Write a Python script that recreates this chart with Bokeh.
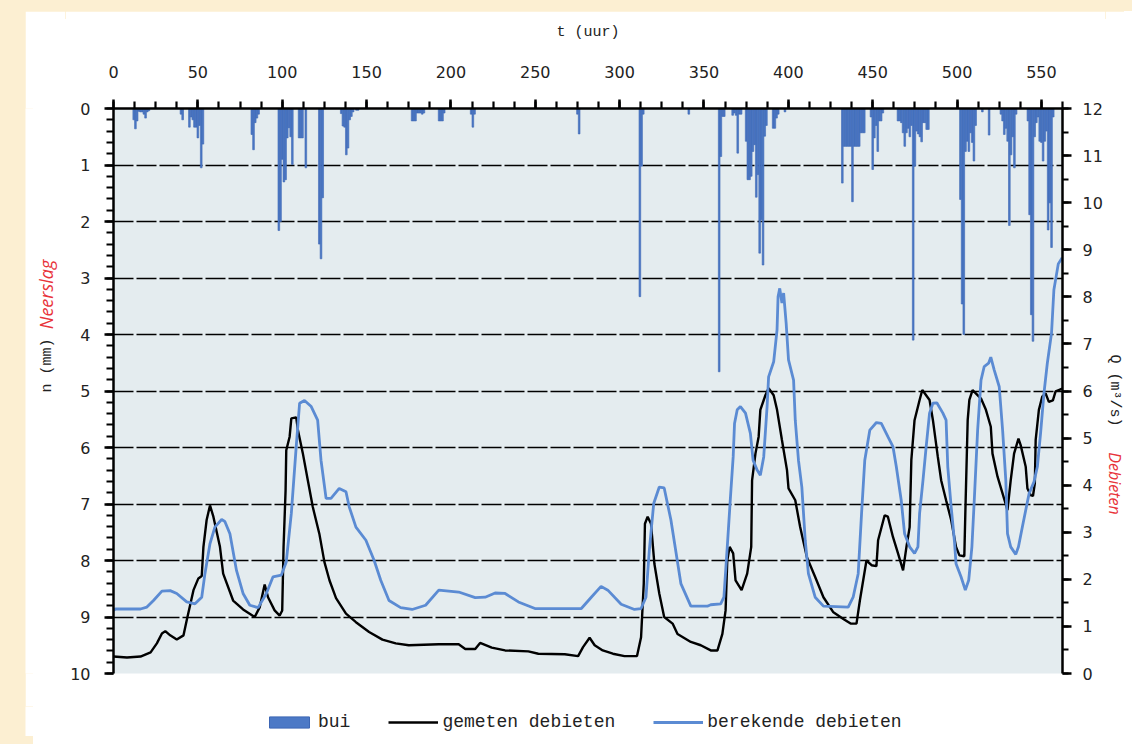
import math
from bokeh.plotting import figure
from bokeh.layouts import row, column
from bokeh.models import (Range1d, LinearAxis, SingleIntervalTicker, Legend,
                          LegendItem, Label)
from bokeh.embed import file_html
from bokeh.resources import INLINE

# ---------------- data ----------------
# rainfall per hour (mm), hung from the top (left axis, inverted)
rain_t = [12, 13, 14, 15, 16, 17, 18, 19, 20, 21,
          40, 41, 45, 46, 47, 48, 49, 50, 51, 52, 53,
          82, 83, 84, 85, 86,
          98, 99, 100, 101, 102, 103, 104, 105, 106,
          110, 111, 112, 114,
          122, 123, 124,
          135, 136, 137, 138, 139, 140, 141, 142, 144, 145,
          177, 178, 179, 180, 181, 182, 183, 184,
          193, 194, 195, 196,
          212, 213, 214,
          275, 276,
          312, 313, 314,
          341,
          359, 360, 361, 362,
          367, 368, 369, 370, 371, 372,
          375, 376, 377, 378, 379, 380, 381, 382, 383, 384, 385, 386, 387,
          391, 392, 393, 394,
          398,
          432, 433, 434, 435, 436, 437, 438, 439, 440, 441, 442, 443, 444, 445,
          449, 450, 451, 452, 453, 454, 455, 456,
          465, 466, 467, 468, 469, 470, 471, 472, 473, 474, 475, 476, 477, 478,
          479, 480, 481, 482, 483,
          502, 503, 504, 505, 506, 507, 508, 509, 510, 511,
          515, 519,
          526, 527, 528, 529, 530, 531, 532, 533, 534, 535,
          542, 543, 544, 545, 546, 547, 548, 549, 550, 551, 552, 553, 554, 555,
          556, 557]
rain_mm = [0.2, 0.36, 0.22, 0.05, 0.06, 0.06, 0.1, 0.17, 0.06, 0.04,
           0.1, 0.2, 0.33, 0.15, 0.2, 0.33, 0.33, 0.52, 0.3, 1.05, 0.63,
           0.46, 0.73, 0.25, 0.17, 0.1,
           2.16, 2.0, 0.9, 1.3, 1.26, 0.52, 0.34, 0.5, 0.99,
           0.52, 0.52, 0.52, 1.05,
           2.4, 2.66, 1.58,
           0.09, 0.31, 0.33, 0.82, 0.7, 0.2, 0.14, 0.06, 0.03, 0.03,
           0.22, 0.22, 0.22, 0.08, 0.08, 0.08, 0.1, 0.08,
           0.22, 0.22, 0.22, 0.08,
           0.1, 0.33, 0.1,
           0.1, 0.45,
           3.33, 1.02, 0.1,
           0.1,
           4.66, 0.85, 0.14, 0.14,
           0.12, 0.08, 0.12, 0.79, 0.1, 0.1,
           0.58, 1.26, 1.26, 1.2, 0.76, 0.64, 1.57, 1.17, 2.56, 1.97, 2.77, 0.49, 0.3,
           0.35, 0.35, 0.17, 0.1,
           0.06,
           1.32, 0.67, 0.67, 0.67, 0.67, 0.67, 1.65, 0.67, 0.67, 0.67, 0.67, 0.43, 0.43, 0.43,
           0.15, 1.08, 0.52, 0.3, 0.76, 0.22, 0.22, 0.08,
           0.22, 0.22, 0.25, 0.43, 0.67, 0.43, 0.35, 0.5, 0.3, 4.1, 1.02, 0.4, 0.45, 0.5,
           0.59, 0.25, 0.25, 0.37, 0.37,
           1.61, 3.46, 4.0, 0.76, 0.58, 0.76, 0.43, 0.6, 0.93, 0.3,
           0.06, 0.47,
           0.1, 0.22, 0.46, 0.35, 0.58, 2.07, 0.82, 0.5, 1.05, 0.1,
           0.22, 1.88, 3.65, 4.12, 0.5, 0.25, 0.15, 0.58, 0.6, 0.93, 0.58, 0.4, 2.15, 1.67,
           2.46, 0.15]

# measured discharge (m3/s)
meas_t = [0, 8, 16, 22, 25.7, 28.7, 30.7, 33.6, 37.5, 41.5, 43.4, 47.4, 50.3, 52.3,
          53.3, 55.2, 57.2, 59.2, 63.1, 65, 70.9, 76.8, 83.7, 86.7, 89.6, 91.6, 95.5,
          98.5, 100, 100.8, 102, 102.4, 104.4, 105.4, 108.3, 109.3, 112.2, 115.2,
          118.1, 122, 125, 128, 131.9, 137.8, 143.7, 151.5, 159.4, 167.3, 175, 192.8,
          204.6, 208.5, 214.4, 217.3, 224.2, 232.1, 245.9, 251.8, 267.5, 275.4, 278.3,
          282.2, 285.2, 290, 296, 302.9, 310.3, 312.7, 314.3, 315, 316.6, 318.6, 320.6,
          323.5, 326.4, 331.4, 334.3, 342.2, 348.1, 354, 358, 360.9, 362.8, 363.8,
          365.2, 367.3, 368.7, 372.3, 375.6, 378, 378.5, 380.5, 382.4, 383.4, 386.4,
          388.3, 391.3, 393.3, 396.2, 399.2, 400.1, 404.1, 407, 411, 415.9, 420.8,
          426.7, 432.6, 436.9, 440.4, 442.4, 446.3, 449.3, 452.2, 453.2, 457.1, 459,
          462, 465, 468, 470, 471.9, 472.9, 474.8, 477.8, 479.4, 483.7, 485.7, 488.6,
          490.6, 493.5, 496.5, 499.4, 501.4, 504.3, 504.9, 506.3, 507.3, 509.2, 514.2,
          517.1, 520, 521, 524, 527, 529.9, 531.8, 533.8, 536.4, 537.7, 540.7, 541.7,
          543.6, 545, 546.1, 546.6, 548.5, 550.5, 552.5, 554.4, 556.8, 558.4, 560.3,
          562.3]
meas_q = [0.36, 0.34, 0.36, 0.45, 0.64, 0.85, 0.9, 0.81, 0.72, 0.81, 1.13, 1.77, 2.02, 2.07,
          2.69, 3.26, 3.57, 3.33, 2.69, 2.12, 1.55, 1.36, 1.2, 1.41, 1.89, 1.62, 1.34,
          1.23, 1.34, 2.69, 3.89, 4.74, 5.03, 5.42, 5.44, 5.17, 4.68, 4.1,
          3.54, 2.97, 2.37, 1.98, 1.6, 1.27, 1.09, 0.88, 0.72, 0.64, 0.6, 0.62,
          0.62, 0.52, 0.52, 0.65, 0.55, 0.49, 0.47, 0.42, 0.41, 0.37, 0.56,
          0.76, 0.6, 0.49, 0.42, 0.37, 0.37, 0.77, 1.91, 3.18, 3.33, 3.18, 2.33,
          1.7, 1.2, 1.06, 0.84, 0.67, 0.6, 0.49, 0.49, 0.84, 1.34, 2.4,
          2.69, 2.55, 1.98, 1.77, 2.12, 2.69, 4.1, 4.67, 5.03, 5.6, 5.91,
          6.06, 5.91, 5.6, 4.96, 4.32, 3.93, 3.68, 3.11, 2.47, 2.05, 1.62,
          1.3, 1.16, 1.06, 1.06, 1.55, 2.4, 2.3, 2.28, 2.83, 3.36, 3.33,
          2.9, 2.55, 2.19, 2.69, 3.11, 4.53, 5.38, 5.81, 6.02, 5.81, 5.38, 4.6,
          4.1, 3.68, 3.26, 2.69, 2.51, 2.49, 3.4, 5.38, 5.81, 6.02, 5.84,
          5.6, 5.24, 4.67, 4.18, 3.82, 3.47, 4.1, 4.67, 4.99, 4.85, 4.39, 3.93,
          3.79, 3.77, 4.04, 4.96, 5.6, 5.88, 5.95, 5.77, 5.8, 5.99, 6.02,
          6.05]

# calculated discharge (m3/s)
calc_t = [0, 1.2, 16, 19.8, 23.7, 28.7, 33.6, 37.5, 43.4, 48.3, 52.3, 54.2, 57.2, 60.1,
          64.1, 66, 69, 72.9, 76.8, 80.8, 85.7, 90.6, 94.5, 99.5, 102.4, 105.4, 108.3,
          110.3, 113.2, 117.2, 121, 123, 126, 128.9, 133.8, 137.8, 139.7, 143.7, 149.6,
          154.5, 158.4, 163.3, 170.2, 177, 185, 192.8, 204.6, 214.4, 220.3, 226.2,
          232.1, 240, 249.8, 277.3, 283.2, 289, 293, 300.9, 308.8, 312.7, 315.6, 317.6,
          320.2, 323.5, 326.4, 330.4, 336.3, 342.2, 352, 354, 359.9, 361.8, 363.8,
          365.7, 367.3, 368.1, 369.7, 371.6, 374.6, 377.5, 379.1, 381.5, 383.4, 385.4,
          387.4, 388.3, 391.3, 393.3, 393.9, 394.9, 396.2, 397.2, 398.7, 400.1, 403.1,
          404.1, 406, 408, 410, 411.9, 415.9, 420.8, 435.5, 438.4, 441.4, 443.4, 445.3,
          448.3, 452.2, 455.1, 459, 462, 464, 466.9, 468.9, 471.9, 474.8, 476.8, 477.8,
          479.8, 481.7, 483.7, 485.7, 488, 491.6, 493.5, 494.5, 496.5, 498.4, 499.4,
          502.4, 504.9, 506.9, 508.8, 510.2, 512.2, 514.2, 516.1, 518.7, 520, 522, 525,
          527, 528.9, 529.9, 531.8, 534.8, 536.4, 538.7, 541.1, 542.7, 545.6, 547.6,
          549.5, 551.5, 553.5, 556, 557.4, 558.4, 560, 562.3]
calc_q = [1.34, 1.37, 1.37, 1.41, 1.55, 1.75, 1.76, 1.7, 1.52, 1.48, 1.62, 2.12, 2.76, 3.11,
          3.27, 3.23, 2.97, 2.19, 1.7, 1.45, 1.4, 1.7, 2.05, 2.09, 2.37, 3.4, 4.82,
          5.74, 5.8, 5.67, 5.38, 4.53, 3.72, 3.72, 3.93, 3.86, 3.54, 3.11, 2.83,
          2.4, 1.98, 1.55, 1.4, 1.36, 1.45, 1.77, 1.73, 1.61, 1.62, 1.71,
          1.7, 1.52, 1.38, 1.38, 1.62, 1.85, 1.77, 1.47, 1.36, 1.38, 1.62, 2.62,
          3.61, 3.96, 3.94, 3.26, 1.91, 1.43, 1.43, 1.46, 1.48, 1.62, 2.69,
          3.75, 4.6, 5.31, 5.6, 5.67, 5.53, 5.1, 4.53, 4.32, 4.21, 4.6,
          5.67, 6.3, 6.62, 7.3, 8.0, 8.18, 7.87, 8.08, 7.44, 6.66, 6.23,
          5.38, 4.53, 3.96, 2.83, 2.12, 1.62, 1.43, 1.41, 1.62, 2.12, 3.4, 4.53,
          5.17, 5.33, 5.31, 5.03, 4.82, 4.39, 3.68, 2.97, 2.69, 2.55, 2.69, 3.4,
          4.1, 4.82, 5.53, 5.74, 5.75, 5.53, 5.38, 4.39, 3.54, 2.83, 2.33,
          2.05, 1.77, 1.98, 2.69, 3.68, 5.17, 6.23, 6.52, 6.59, 6.72, 6.45, 6.09,
          5.17, 4.1, 2.97, 2.69, 2.53, 2.69, 3.11, 3.54, 3.82, 4.07, 4.39,
          5.1, 5.95, 6.59, 7.23, 8.15, 8.36, 8.7, 8.83]

x_ticks_interval = 50
labels_legend = ["bui", "gemeten debieten", "berekende debieten"]

# ---------------- styles ----------------
BAR_FILL, BAR_LINE = "#4C79C6", "#3C66B4"
MEAS_COL, CALC_COL = "black", "#5B8BD3"
RED = "#E8333A"
TXT = "#222222"

# page geometry (canvas origin of the layout at page 25, 11)
ORG_X, ORG_Y = 25, 11
TOTAL_W, TOTAL_H = 1099, 725
LEFT_W = 40            # label strip left of the chart
RIGHT_W = 19           # label strip right of the chart
LEG_H = 30             # legend strip below the chart
MAIN_H = TOTAL_H - LEG_H
MAIN_W = TOTAL_W - LEFT_W - RIGHT_W
FRAME_L, FRAME_T, FRAME_R, FRAME_B = 113, 108, 1066, 673
MAIN_X0 = ORG_X + LEFT_W
MAIN_Y1 = ORG_Y + MAIN_H
LABEL_SHIFT = 31       # measured vertical offset of the strip labels


def strip(w, h, yr=(0, 1)):
    f = figure(width=w, height=h, output_backend="svg", toolbar_location=None,
               x_range=Range1d(0, 1), y_range=Range1d(*yr), min_border=0,
               x_axis_location=None, y_axis_location=None)
    f.grid.visible = False
    f.outline_line_color = None
    f.background_fill_color = "white"
    f.border_fill_color = "white"
    return f


# ---------------- main chart ----------------
p = figure(width=MAIN_W, height=MAIN_H, output_backend="svg", toolbar_location=None,
           x_range=Range1d(0, 562.5), y_range=Range1d(10, 0),
           x_axis_location="above", y_axis_location="left",
           min_border_left=FRAME_L - MAIN_X0, min_border_top=FRAME_T - ORG_Y,
           min_border_right=MAIN_X0 + MAIN_W - FRAME_R,
           min_border_bottom=MAIN_Y1 - FRAME_B)
p.background_fill_color = "#E4ECEF"
p.border_fill_color = "white"
p.outline_line_color = None
p.xgrid.visible = False
p.extra_y_ranges = {"flow": Range1d(0, 12)}

xa = p.xaxis[0]
xa.ticker = SingleIntervalTicker(interval=x_ticks_interval, num_minor_ticks=4)
xa.axis_label = "t (uur)"
xa.axis_label_text_font = "Liberation Mono"
xa.axis_label_text_font_size = "15px"
xa.axis_label_text_font_style = "normal"
xa.axis_label_text_color = TXT
xa.axis_label_standoff = 22
xa.major_label_standoff = 22

ya = p.yaxis[0]
ya.ticker = SingleIntervalTicker(interval=1, num_minor_ticks=5)
ya.major_label_standoff = 14

ra = LinearAxis(y_range_name="flow",
                ticker=SingleIntervalTicker(interval=1, num_minor_ticks=2))
ra.major_label_standoff = 11
p.add_layout(ra, "right")

for ax in (xa, ya, ra):
    ax.axis_line_width = 2.5
    ax.axis_line_color = "black"
    ax.major_tick_line_width = 2.5
    ax.minor_tick_line_width = 2.2
    ax.major_tick_in = 0
    ax.minor_tick_in = 0
    ax.major_tick_out = 9
    ax.minor_tick_out = 7
    ax.major_label_text_font = "DejaVu Sans"
    ax.major_label_text_font_size = "16px"
    ax.major_label_text_color = TXT
ra.minor_tick_out = 6

p.ygrid.grid_line_color = "black"
p.ygrid.grid_line_width = 1.4
p.ygrid.grid_line_dash = "20 3"

p.vbar(x=rain_t, width=1.0, top=0, bottom=rain_mm,
       fill_color=BAR_FILL, line_color=BAR_LINE, line_width=0.6)
p.line(meas_t, meas_q, y_range_name="flow", line_color=MEAS_COL, line_width=2.4)
p.line(calc_t, calc_q, y_range_name="flow", line_color=CALC_COL, line_width=2.8)

# ---------------- left / right axis titles ----------------
lf = strip(LEFT_W, MAIN_H)
rf = strip(RIGHT_W, MAIN_H)


def lab(fig, x0, txt, px, py, ang, font, size, color, style="normal"):
    fig.add_layout(Label(x=px - x0, y=MAIN_Y1 - py - LABEL_SHIFT,
                         x_units="screen", y_units="screen",
                         text=txt, angle=ang, text_align="center", text_baseline="middle",
                         text_font=font, text_font_size=size, text_color=color,
                         text_font_style=style))


lab(lf, ORG_X, "n (mm)", 47, 367, math.pi / 2, "Liberation Mono", "15px", TXT)
lab(lf, ORG_X, "Neerslag", 45, 296, math.pi / 2, "Open Sans", "18px", RED, "italic")
RX0 = MAIN_X0 + MAIN_W
lab(rf, RX0, "Q (m³/s)", 1114, 392, -math.pi / 2, "Liberation Mono", "15px", TXT)
lab(rf, RX0, "Debieten", 1114, 485, -math.pi / 2, "Open Sans", "16px", RED, "italic")

# ---------------- legend strip ----------------
# legend handles use the real series in a strip whose ranges keep them out of view
bf = strip(TOTAL_W, LEG_H, yr=(100, 101))
lb = bf.vbar(x=rain_t, width=1.0, top=0, bottom=rain_mm,
             fill_color=BAR_FILL, line_color=BAR_LINE)
lm = bf.line(meas_t, meas_q, line_color=MEAS_COL, line_width=2.6)
lc = bf.line(calc_t, calc_q, line_color=CALC_COL, line_width=3.0)
legend = Legend(items=[LegendItem(label=labels_legend[0], renderers=[lb]),
                       LegendItem(label=labels_legend[1], renderers=[lm]),
                       LegendItem(label=labels_legend[2], renderers=[lc])],
                orientation="horizontal",
                location=(264 - ORG_X, (ORG_Y + TOTAL_H) - 732),
                label_text_font="Liberation Mono", label_text_font_size="18px",
                label_text_color=TXT,
                glyph_width=50, glyph_height=14, label_height=20,
                label_standoff=4, spacing=38, padding=0, margin=0,
                border_line_color=None, background_fill_alpha=0)
bf.add_layout(legend, "center")

layout = column(row(lf, p, rf, spacing=0), bf, spacing=0)

html = file_html(layout, INLINE, title="Neerslag en debieten")
css = ("<style>html,body{background:"
       "linear-gradient(#FCEFD2,#FCEFD2) 0 0/25px 100% no-repeat,"
       "linear-gradient(#FCEFD2,#FCEFD2) 0 0/100% 11px no-repeat,#ffffff;}"
       "body{margin:8px;padding:3px 0 0 17px;}</style></head>")
html = html.replace("</head>", css, 1)
open("out.html", "w").write(html)
